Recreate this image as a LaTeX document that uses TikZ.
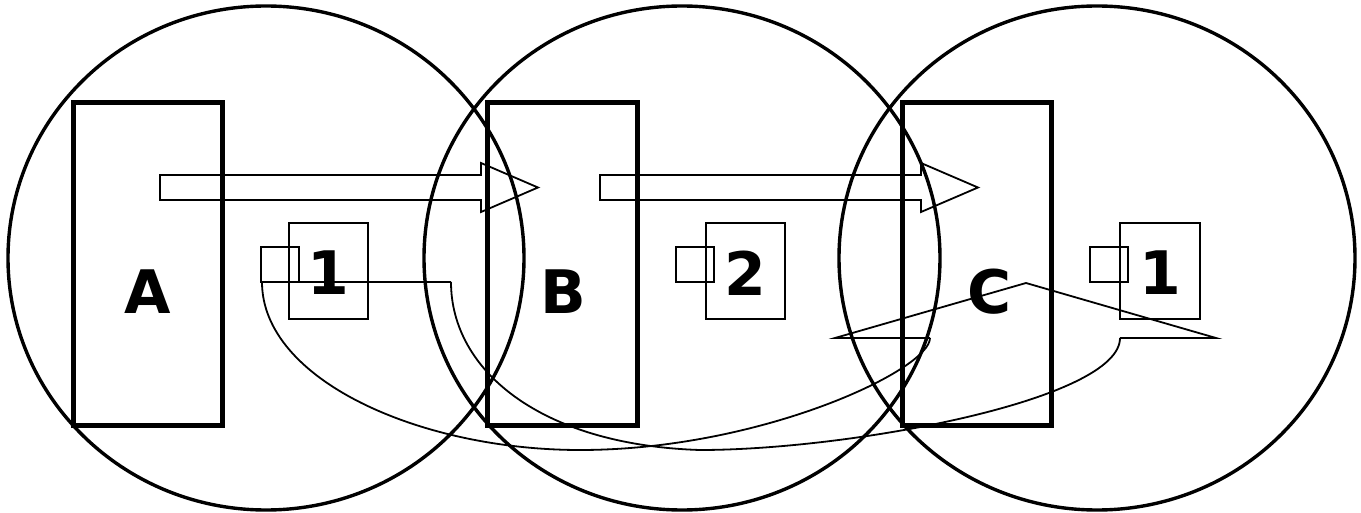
\documentclass[tikz,border=0pt]{standalone}
\usepackage{fontspec}
\setmainfont{DejaVu Sans}
\begin{document}
\begin{tikzpicture}[x=1pt,y=-1pt,
  ring/.style={draw,line width=3.4pt},
  server/.style={draw,line width=5pt},
  thinline/.style={draw,line width=1.8pt,line join=miter},
  biglabel/.style={font=\bfseries\fontsize{60}{60}\selectfont,inner sep=0pt},
  numlabel/.style={font=\bfseries\fontsize{60}{60}\selectfont,inner sep=0pt}]
\useasboundingbox (0,0) rectangle (1361,513);
% circles
\draw[ring] (266,258) ellipse [x radius=258,y radius=252];
\draw[ring] (682,258) ellipse [x radius=258,y radius=252];
\draw[ring] (1097,258) ellipse [x radius=258,y radius=252];
% servers
\draw[server] (73,103) rectangle (222,425);
\draw[server] (487,103) rectangle (637,425);
\draw[server] (902,103) rectangle (1051,425);
\node[biglabel] (lA) at (148,292) {A};
\node[biglabel] (lB) at (563,292) {B};
\node[biglabel] (lC) at (990,292) {C};
% block arrows
\draw[thinline] (160,175) -- (481,175) -- (481,163) -- (538,187.5) -- (481,212) -- (481,200) -- (160,200) -- cycle;
\draw[thinline] (600,175) -- (921,175) -- (921,163) -- (978,187.5) -- (921,212) -- (921,200) -- (600,200) -- cycle;
% process boxes
\draw[thinline] (289,223) rectangle (368,319);
\draw[thinline] (261,247) rectangle (299,282);
\node[numlabel] (n1) at (328,273) {1};
\draw[thinline] (706,223) rectangle (785,319);
\draw[thinline] (676,247) rectangle (714,282);
\node[numlabel] (n2) at (745,273) {2};
\draw[thinline] (1120,223) rectangle (1200,319);
\draw[thinline] (1090,247) rectangle (1128,282);
\node[numlabel] (n3) at (1160,273) {1};
% migration curved arrow
\coordinate (s1) at (262,282);
\coordinate (s2) at (451,282);
\coordinate (e1) at (930,338);
\coordinate (e2) at (1120,338);
\coordinate (tip) at (1026,283);
\coordinate (hl) at (835,338);
\coordinate (hr) at (1216,338);
\draw[thinline] (s1) -- (s2);
\draw[thinline] (s1) .. controls (262,380) and (420,450) .. (580,450)
  .. controls (760,450) and (930,370) .. (e1);
\draw[thinline] (s2) .. controls (451,370) and (540,445) .. (700,450)
  .. controls (850,450) and (1120,400) .. (e2);
\draw[thinline] (e1) -- (hl) -- (tip) -- (hr) -- (e2);
\end{tikzpicture}
\end{document}
